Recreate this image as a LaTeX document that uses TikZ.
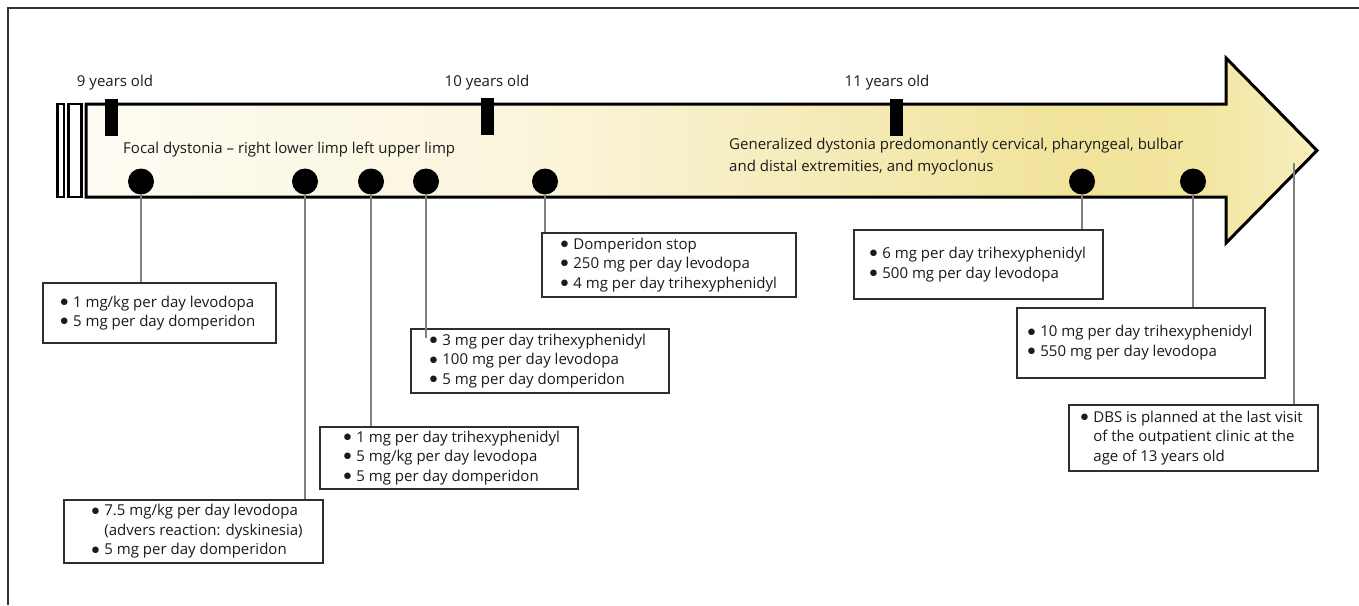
\documentclass[tikz,border=0pt]{standalone}
\usepackage{fontspec}
\setmainfont{Open Sans}
\newfontfamily\symfont{DejaVu Sans}
\usetikzlibrary{calc}
\definecolor{sa}{HTML}{FEFCF3}
\definecolor{sb}{HTML}{FBF5DD}
\definecolor{sc}{HTML}{F6EDC0}
\definecolor{sd}{HTML}{F1E39A}
\definecolor{se}{HTML}{F2E5A0}
\definecolor{sf}{HTML}{F8EFBE}
\definecolor{txt}{HTML}{1A1A1A}
\definecolor{boxline}{HTML}{2E2E2E}
\definecolor{connc}{HTML}{7F7F7F}
\definecolor{framec}{HTML}{333333}
\pgfdeclarehorizontalshading{arrowsh}{100bp}{color(0bp)=(sa); color(25bp)=(sa); color(42.5bp)=(sb); color(52.5bp)=(sc); color(65bp)=(sd); color(70bp)=(se); color(75bp)=(sf); color(100bp)=(sf)}
\newcommand{\bl}{\makebox[12.5pt][l]{\raisebox{2.6pt}{\symfont\fontsize{8.5}{8.5}\selectfont ●}}}
\newcommand{\ind}{\hspace*{12.5pt}}
\newcommand{\boxtext}[2]{\makebox[#1][l]{\begin{tabular}{@{}l@{}}#2\end{tabular}}}
\begin{document}
\begin{tikzpicture}[x=1pt,y=-1pt,
  every node/.style={text=txt, font=\fontsize{15}{19.5}\selectfont},
  medbox/.style n args={3}{draw=boxline, line width=1.8pt, fill=white, anchor=north west,
    minimum width=#1, minimum height=#2, inner xsep=#3, inner ysep=0pt},
  conn/.style={draw=connc, line width=1.5pt},
  tickmark/.style={fill=black, inner sep=0pt, minimum width=13pt, minimum height=37pt},
  dotmark/.style={circle, fill=black, inner sep=0pt, minimum size=26pt},
  bar/.style={draw=black, line width=2.5pt, fill=white},
  arrowbody/.style={draw=black, line width=3pt, miter limit=10, shading=arrowsh},
  yearlab/.style={inner sep=0pt}
]
\useasboundingbox (0,0) rectangle (1359,605);
% frame
\draw[framec, line width=1.5pt] (8,605) -- (8,8) -- (1359,8);
% left bars
\draw[bar] (57.5,104) rectangle (64,197);
\draw[bar] (68.5,104) rectangle (81.5,197);
% arrow
\path[arrowbody] (86,104) -- (1226,104) -- (1226,58) -- (1317,150.5) -- (1226,243) -- (1226,197) -- (86,197) -- cycle;
% ticks and labels
\node[tickmark] (t9) at (111,117.5) {};
\node[tickmark] (t10) at (487.5,116.5) {};
\node[tickmark] (t11) at (896.5,117.5) {};
\node[yearlab] (y9) at (115,83) {9 years old};
\node[yearlab] (y10) at (487,83) {10 years old};
\node[yearlab] (y11) at (887,83) {11 years old};
% arrow texts
\node[anchor=west, inner sep=0pt] (focal) at (123,150) {Focal dystonia – right lower limp left upper limp};
\node[anchor=west, inner sep=0pt, align=left, font=\fontsize{15}{22}\selectfont] (gen) at (729,157) {Generalized dystonia predomonantly cervical, pharyngeal, bulbar\\and distal extremities, and myoclonus};
% dots
\node[dotmark] (d1) at (141,181.5) {};
\node[dotmark] (d2) at (305,181.5) {};
\node[dotmark] (d3) at (371,181.5) {};
\node[dotmark] (d4) at (426,181.5) {};
\node[dotmark] (d5) at (545,181.5) {};
\node[dotmark] (d6) at (1082,181.5) {};
\node[dotmark] (d7) at (1193,181.5) {};
\coordinate (dbsTop) at (1294,163);
% boxes
\node[medbox={233pt}{60pt}{18pt}] (b1) at (41.7,282) {\boxtext{197pt}{\bl 1 mg/kg per day levodopa\\\bl 5 mg per day domperidon}};
\node[medbox={259pt}{63pt}{28pt}] (b2) at (63,499) {\boxtext{203pt}{\bl 7.5 mg/kg per day levodopa\\\ind(advers reaction: dyskinesia)\\\bl 5 mg per day domperidon}};
\node[medbox={258pt}{62pt}{24pt}] (b3) at (319,425.7) {\boxtext{210pt}{\bl 1 mg per day trihexyphenidyl\\\bl 5 mg/kg per day levodopa\\\bl 5 mg per day domperidon}};
\node[medbox={258pt}{64pt}{19pt}] (b4) at (410,328) {\boxtext{220pt}{\bl 3 mg per day trihexyphenidyl\\\bl 100 mg per day levodopa\\\bl 5 mg per day domperidon}};
\node[medbox={254pt}{64pt}{19pt}] (b5) at (541,231.7) {\boxtext{216pt}{\bl Domperidon stop\\\bl 250 mg per day levodopa\\\bl 4 mg per day trihexyphenidyl}};
\node[medbox={249pt}{69pt}{16pt}] (b6) at (853,229) {\boxtext{217pt}{\bl 6 mg per day trihexyphenidyl\\\bl 500 mg per day levodopa}};
\node[medbox={248pt}{70pt}{11pt}] (b7) at (1016,306.7) {\boxtext{226pt}{\bl 10 mg per day trihexyphenidyl\\\bl 550 mg per day levodopa}};
\node[medbox={249pt}{66pt}{12pt}] (b8) at (1068,404) {\boxtext{225pt}{\bl DBS is planned at the last visit\\\ind of the outpatient clinic at the\\\ind age of 13 years old}};
% connectors
\draw[conn] (d1.south) -- (d1.south |- b1.north);
\draw[conn] (d2.south) -- (d2.south |- b2.north);
\draw[conn] (d3.south) -- (d3.south |- b3.north);
\draw[conn] (d4.south) -- ($(d4.south |- b4.north)+(0,10)$);
\draw[conn] (d5.south) -- (d5.south |- b5.north);
\draw[conn] (d6.south) -- (d6.south |- b6.north);
\draw[conn] (d7.south) -- (d7.south |- b7.north);
\draw[conn] (dbsTop) -- (dbsTop |- b8.north);
\end{tikzpicture}
\end{document}
